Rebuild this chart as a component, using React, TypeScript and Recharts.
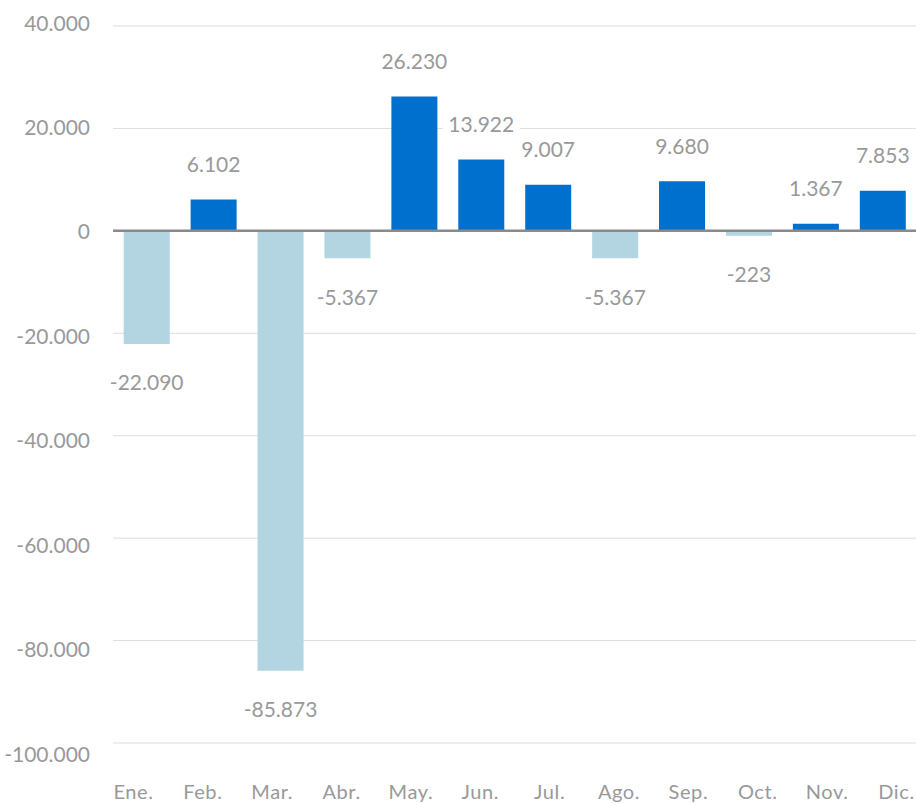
import React from "react";
import {
  BarChart,
  Bar,
  XAxis,
  YAxis,
  CartesianGrid,
  ReferenceLine,
  Cell,
  LabelList,
} from "recharts";

const months = ["Ene.", "Feb.", "Mar.", "Abr.", "May.", "Jun.", "Jul.", "Ago.", "Sep.", "Oct.", "Nov.", "Dic."];
const values = [-22090, 6102, -85873, -5367, 26230, 13922, 9007, -5367, 9680, -223, 1367, 7853];
const yTicks = [40000, 20000, 0, -20000, -40000, -60000, -80000, -100000];

const data = months.map((m, i) => ({ month: m, value: values[i] }));

const POS = "#0070CE";
const NEG = "#B3D4E1";
const TEXT = "#999999";
const FONT = "Lato, 'Open Sans', sans-serif";

const fmt = (v: number) => {
  const s = Math.abs(Math.round(v)).toString().replace(/\B(?=(\d{3})+(?!\d))/g, ".");
  return (v < 0 ? "-" : "") + s;
};

const ValueLabel = (props: any) => {
  const { x, y, width, height, value } = props;
  const v = Number(value);
  const text = fmt(v);
  const cx = x + width / 2;
  const top = Math.min(y, y + height);
  const bottom = Math.max(y, y + height);
  const cy = v >= 0 ? top - 36 : bottom + 38;
  const w = text.length * 11.5 + 8;
  return (
    <g>
      <rect x={cx - w / 2} y={cy - 13} width={w} height={26} fill="#fff" />
      <text
        x={cx}
        y={cy}
        textAnchor="middle"
        dominantBaseline="central"
        fill={TEXT}
        fontSize={21}
        fontFamily={FONT}
      >
        {text}
      </text>
    </g>
  );
};

const YTick = (props: any) => {
  const { x, y, payload } = props;
  const v = payload.value as number;
  const shift = -4 + ((40000 - v) / 20000) * 2;
  return (
    <text
      x={x}
      y={y + shift}
      textAnchor="end"
      dominantBaseline="central"
      fill={TEXT}
      fontSize={21}
      fontFamily={FONT}
    >
      {fmt(v)}
    </text>
  );
};

const XTick = (props: any) => {
  const { x, y, payload, index } = props;
  const shift = -13 + 2.45 * index;
  return (
    <text
      x={x + shift}
      y={y}
      dy="0.71em"
      textAnchor="middle"
      fill={TEXT}
      fontSize={20}
      letterSpacing={0.6}
      fontFamily={FONT}
    >
      {payload.value}
    </text>
  );
};

export default function App() {
  return (
    <div style={{ position: "fixed", left: 0, top: 0, width: 916, height: 803, overflow: "hidden", background: "#fff" }}>
      <BarChart
        width={916}
        height={803}
        data={data}
        margin={{ top: 26, right: 0, bottom: 0, left: 0 }}
        barCategoryGap="16%"
      >
        <CartesianGrid horizontal vertical={false} stroke="#dddddd" strokeWidth={1} />
        <XAxis
          dataKey="month"
          axisLine={false}
          tickLine={false}
          tickSize={0}
          tickMargin={42}
          height={60}
          interval={0}
          tick={<XTick />}
        />
        <YAxis
          type="number"
          domain={[-100000, 40000]}
          ticks={yTicks}
          interval={0}
          axisLine={false}
          tickLine={false}
          tickSize={0}
          tickMargin={23}
          width={113}
          tick={<YTick />}
        />
        <Bar dataKey="value" isAnimationActive={false} minPointSize={5}>
          {data.map((d, i) => (
            <Cell key={i} fill={d.value >= 0 ? POS : NEG} />
          ))}
          <LabelList dataKey="value" content={<ValueLabel />} />
        </Bar>
        <ReferenceLine y={0} stroke="#8a8a8a" strokeWidth={2.5} />
      </BarChart>
    </div>
  );
}
